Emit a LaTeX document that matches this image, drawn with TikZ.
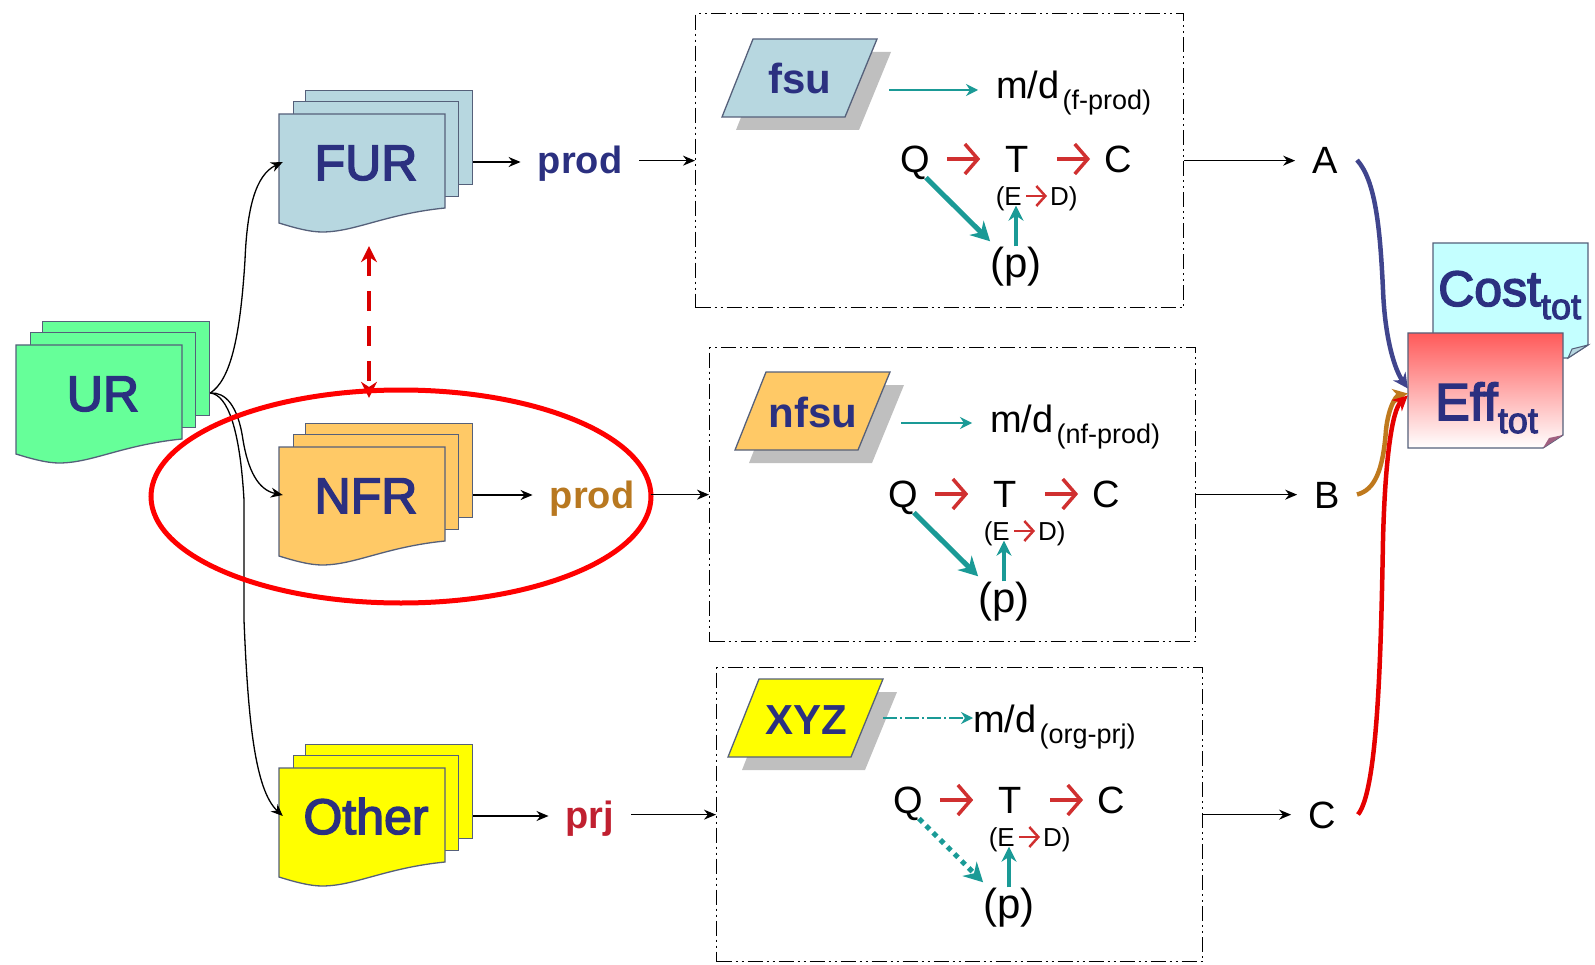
\documentclass[tikz,border=0pt]{standalone}
\usepackage{fontspec}
\setmainfont{Liberation Sans}
\newfontfamily\docfont[FakeBold=3]{Liberation Sans}
\definecolor{Navycol}{HTML}{2B3080}
\definecolor{Edgecol}{HTML}{55607A}
\definecolor{Furcol}{HTML}{B7D7E0}
\definecolor{Nfrcol}{HTML}{FFC966}
\definecolor{Urcol}{HTML}{66FF99}
\definecolor{Othcol}{HTML}{FFFF00}
\definecolor{Costcol}{HTML}{C4FFFF}
\definecolor{Effcol}{HTML}{FF5A5A}
\definecolor{Foldcol}{HTML}{A06080}
\definecolor{Tealcol}{HTML}{1A9A96}
\definecolor{Redcol}{HTML}{D03030}
\definecolor{Prodcol}{HTML}{B87820}
\definecolor{Prjcol}{HTML}{C02030}
\usetikzlibrary{arrows.meta}
\tikzset{
    >=Stealth,
    sheet/.style={draw=Edgecol, line width=1.3pt, inner sep=0pt, anchor=north west},
    doclabel/.style={font=\docfont\fontsize{50}{54}\selectfont, text=Navycol, inner sep=0pt, minimum width=166pt, minimum height=94pt, text height=36pt, text depth=0pt},
    unitlabel/.style={font=\bfseries\fontsize{42}{46}\selectfont, text=Navycol, inner sep=0pt, text height=30pt, text depth=0pt},
    unitframe/.style={draw, line width=1.3pt, dash pattern=on 15pt off 4pt on 2pt off 4pt on 2pt off 4pt, minimum height=294pt, inner sep=0pt, anchor=north west},
    rowlabel/.style={font=\bfseries\fontsize{38}{42}\selectfont, inner ysep=0pt, inner xsep=17pt, text height=27pt, text depth=0pt},
    endlabel/.style={font=\fontsize{38}{42}\selectfont, inner ysep=0pt, inner xsep=17pt, text height=27pt, text depth=0pt},
    qtclabel/.style={font=\fontsize{38}{42}\selectfont, inner sep=0pt, text height=27pt, text depth=0pt},
    edlabel/.style={font=\fontsize{26}{28}\selectfont, inner sep=0pt, text height=19pt, text depth=0pt},
    mdlabel/.style={font=\fontsize{38}{42}\selectfont, inner sep=0pt, anchor=base west},
    flow/.style={->, >={Stealth[length=12pt,width=10pt]}, line width=1.3pt},
    mdline/.style={->, >={Stealth[length=12pt,width=12pt]}, Tealcol, line width=1.5pt},
    redstep/.style={-{Straight Barb[length=13pt,width=30pt]}, Redcol, line width=3.5pt},
    redsmall/.style={-{Straight Barb[length=9pt,width=20pt]}, Redcol, line width=2.5pt},
    tealthick/.style={->, >={Stealth[length=19pt,width=20pt]}, Tealcol, line width=5pt},
    tealdots/.style={->, >={Stealth[length=19pt,width=20pt]}, Tealcol, line width=5pt, dash pattern=on 5pt off 5pt},
    tealthin/.style={->, >={Stealth[length=15pt,width=15pt]}, Tealcol, line width=3.5pt},
    sumcurve/.style={->, >={Stealth[length=15pt,width=15pt]}, line width=4.5pt}
}
\newcommand{\reqstack}[5]{%
    \begin{scope}[shift={(#2,#3)}]
        \node[sheet, fill=#4, minimum width=167pt, minimum height=94pt] (#1back) at (26,-24) {};
        \node[sheet, fill=#4, minimum width=165pt, minimum height=95pt] (#1mid) at (14,-13) {};
        \draw[Edgecol, fill=#4, line width=1.3pt] (0,0) -- (166,0) -- (166,94) .. controls (106,100) and (76,118) .. (43,118) .. controls (31,118) and (16,114) .. (0,109) -- cycle;
        \node[doclabel] (#1) at (87,48) {#5};
    \end{scope}
    \coordinate (#1out) at (#1 -| #1back.east);
}
\newcommand{\estimbox}[8]{%
    \node[unitframe, minimum width=#8pt] (#1box) at (#2,#3) {};
    \begin{scope}[shift={(#4,#5)}]
        \fill[black!25] (14,13) -- (45,-65) -- (169,-65) -- (137,13) -- cycle;
        \draw[Edgecol, fill=#6, line width=1.3pt] (0,0) -- (31,-78) -- (155,-78) -- (123,0) -- cycle;
        \node[unitlabel] (#1) at (78,-38) {#7};
    \end{scope}
}
\newcommand{\qtcgroup}[4]{%
    \begin{scope}[shift={(#2,#3)}]
        \node[qtclabel] (#1q) at (0,0) {Q};
        \node[qtclabel] (#1t) at (102,0) {T};
        \node[qtclabel] (#1c) at (203,0) {C};
        \node[edlabel, anchor=east] (#1e) at (107,37) {(E};
        \node[edlabel, anchor=west] (#1d) at (135,37) {D)};
        \node[qtclabel, font=\fontsize{42}{46}\selectfont, text height=28pt, text depth=9pt] (#1p) at (101,109) {(p)};
        \draw[redstep, shorten <=17pt, shorten >=25pt] (#1q) -- (#1t);
        \draw[redstep, shorten <=28pt, shorten >=14pt] (#1t) -- (#1c);
        \draw[redsmall, shorten <=4pt, shorten >=3pt] (#1e) -- (#1d);
        \draw[#4] ([shift={(-4,5)}]#1q.south east) -- ([shift={(0,-8)}]#1p.north west);
        \draw[tealthin] ([yshift=3pt]#1p.north) -- (#1p.north |- #1e.south);
    \end{scope}
}
\newcommand{\mdsub}[1]{\kern3pt\raisebox{-11pt}{\fontsize{27}{29}\selectfont #1}}
\newcommand{\totsub}[1]{\raisebox{-13pt}{\fontsize{36}{38}\selectfont #1}}

\begin{document}
\begin{tikzpicture}[x=1pt, y=-1pt]
    \useasboundingbox (0,0) rectangle (1595,965);

    % Requirement stacks
    \reqstack{ur}{16}{345}{Urcol}{UR}
    \reqstack{fur}{279}{114}{Furcol}{FUR}
    \reqstack{nfr}{279}{447}{Nfrcol}{NFR}
    \reqstack{oth}{279}{768}{Othcol}{Other}

    % Curves out of UR
    \draw[flow] (urout) .. controls (230,380) and (240,340) .. (245,260) .. controls (247,210) and (255,175) .. (fur.west);
    \draw[flow] (urout) .. controls (225,392) and (238,405) .. (243,440) .. controls (248,470) and (258,490) .. (nfr.west);
    \draw[flow] (urout) .. controls (228,395) and (240,430) .. (244,500) -- (244,620) .. controls (248,720) and (255,790) .. (oth.west);

    % FUR and NFR link
    \draw[<->, >={Stealth[length=16pt,width=16pt]}, red!85!black, line width=4.5pt, dash pattern=on 20pt off 15pt, shorten <=37pt, shorten >=50pt] ([xshift=3pt]fur.south) -- ([xshift=3pt]nfr.north);
    \draw[red, line width=5pt] (401,496.5) ellipse [x radius=250, y radius=106.5];

    % Row labels
    \node[rowlabel, text=Navycol] (prodf) at (580,160) {prod};
    \node[rowlabel, text=Prodcol] (prodn) at (592,494.5) {prod};
    \node[rowlabel, text=Prjcol] (prjo) at (590,814.5) {prj};

    % Functional unit
    \estimbox{fsu}{695}{13}{722}{117}{Furcol}{fsu}{488}
    \node[mdlabel] (fsumd) at (996,99) {m/d\mdsub{(f-prod)}};
    \coordinate (fsuout) at (889,90);
    \draw[mdline, shorten >=18pt] (fsuout) -- (fsuout -| fsumd.west);
    \qtcgroup{fsu}{915}{159}{tealthick}

    % Non-functional unit
    \estimbox{nfsu}{709}{347}{735}{450}{Nfrcol}{nfsu}{486}
    \node[mdlabel] (nfsumd) at (990,432) {m/d\mdsub{(nf-prod)}};
    \coordinate (nfsuout) at (901,423);
    \draw[mdline, shorten >=18pt] (nfsuout) -- (nfsuout -| nfsumd.west);
    \qtcgroup{nfsu}{903}{494}{tealthick}

    % Project unit
    \estimbox{xyz}{716}{667}{728}{757}{Othcol}{XYZ}{486}
    \node[mdlabel] (xyzmd) at (973,732) {m/d\mdsub{(org-prj)}};
    \coordinate (xyzout) at (883,718);
    \draw[mdline, dash pattern=on 14pt off 3pt on 2pt off 3pt] (xyzout) -- (xyzout -| xyzmd.west);
    \qtcgroup{xyz}{908}{800}{tealdots}

    % End letters
    \node[endlabel] (enda) at (1325,160) {A};
    \node[endlabel] (endb) at (1327,494.5) {B};
    \node[endlabel] (endc) at (1322,814.5) {C};

    % Row connectors
    \draw[flow] (furout) -- (furout -| prodf.west);
    \draw[flow] (fsubox.west -| prodf.east) -- (fsubox.west);
    \draw[flow] (fsubox.east) -- (fsubox.east -| enda.west);
    \draw[flow] (nfrout) -- (nfrout -| prodn.west);
    \draw[flow] (nfsubox.west -| prodn.east) -- (nfsubox.west);
    \draw[flow] (nfsubox.east) -- (nfsubox.east -| endb.west);
    \draw[flow] (othout) -- (othout -| prjo.west);
    \draw[flow] (xyzbox.west -| prjo.east) -- (xyzbox.west);
    \draw[flow] (xyzbox.east) -- (xyzbox.east -| endc.west);

    % Totals
    \draw[draw=Edgecol, fill=Costcol, line width=1.3pt] (1433,243) -- (1588,243) -- (1588,345) -- (1568,358) -- (1433,358) -- cycle;
    \draw[draw=Edgecol, fill=Furcol, line width=1pt] (1568,358) -- (1588,345) -- (1572,349) -- cycle;
    \node[font=\docfont\fontsize{50}{54}\selectfont, text=Navycol, inner sep=0pt, anchor=base west] (cost) at (1438,306) {Cost\totsub{tot}};
    \shadedraw[draw=Edgecol, top color=Effcol, bottom color=white, line width=1.3pt] (1408,333) -- (1563,333) -- (1563,435) -- (1543,448) -- (1408,448) -- cycle;
    \fill[Foldcol] (1543,448) -- (1563,435) -- (1549,438) -- cycle;
    \node[minimum width=155pt, minimum height=115pt, inner sep=0pt] (eff) at (1485.5,390.5) {};
    \node[font=\docfont\fontsize{52}{56}\selectfont, text=Navycol, inner sep=0pt, anchor=base west] (efftext) at (1435,420) {Eff\totsub{tot}};

    % Curves into the total
    \draw[sumcurve, Navycol!90!white] ([xshift=32pt]enda.center) .. controls (1375,180) and (1380,225) .. (1383,290) .. controls (1385,340) and (1395,370) .. ([yshift=2pt]eff.west);
    \draw[sumcurve, Prodcol!90!orange] ([xshift=30pt]endb.center) .. controls (1375,490) and (1383,470) .. (1386,430) .. controls (1388,410) and (1395,396) .. ([yshift=-3pt]eff.west);
    \draw[sumcurve, red!90!black] ([xshift=36pt]endc.center) .. controls (1378,790) and (1381,650) .. (1383,540) .. controls (1385,460) and (1392,410) .. ([yshift=-5pt]eff.west);
\end{tikzpicture}
\end{document}
